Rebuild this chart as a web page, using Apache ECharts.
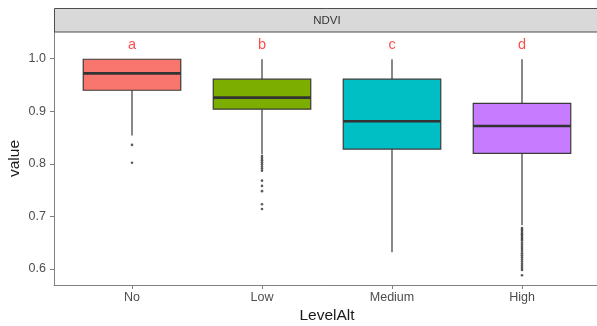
<!DOCTYPE html>
<html><head><meta charset="utf-8">
<script src="https://cdn.jsdelivr.net/npm/echarts@6/dist/echarts.min.js"></script>
<style>html,body{margin:0;padding:0;background:#fff}#c{width:597px;height:326px}</style>
</head><body><div id="c"></div>
<script>
// ---- data ----
const categories = ['No', 'Low', 'Medium', 'High'];
const whiskerLow  = [0.854, 0.818, 0.632, 0.683];
const q1          = [0.940, 0.904, 0.828, 0.820];
const median      = [0.972, 0.926, 0.881, 0.872];
const q3          = [0.999, 0.961, 0.961, 0.915];
const whiskerHigh = [0.999, 0.999, 0.999, 0.999];
const outliersNo = [0.836, 0.802];
const outliersLow = [0.815, 0.811, 0.807, 0.803, 0.799, 0.795, 0.791, 0.787, 0.768, 0.758, 0.748, 0.723, 0.714];
const outliersMedium = [];
const outliersHigh = [0.678, 0.675, 0.672, 0.669, 0.666, 0.663, 0.660, 0.657, 0.654, 0.650, 0.646, 0.642,
                      0.638, 0.634, 0.630, 0.626, 0.622, 0.618, 0.614, 0.610, 0.606, 0.602, 0.598, 0.588];
const groupLetters = ['a', 'b', 'c', 'd'];
const yTicks = [0.6, 0.7, 0.8, 0.9, 1.0];
const stripLabel = 'NDVI';

// ---- styling ----
const fills = ['#F8766D', '#7CAE00', '#00BFC4', '#C77CFF'];
const letterLevel = 1.027;
const xPos = categories.map((c, i) => i + 1);

const boxData = categories.map((c, i) => [xPos[i], whiskerLow[i], q1[i], median[i], q3[i], whiskerHigh[i]]);
const outlierSets = [outliersNo, outliersLow, outliersMedium, outliersHigh];
const outlierData = [];
outlierSets.forEach((arr, i) => arr.forEach(v => outlierData.push([xPos[i], v])));
const letterData = categories.map((c, i) => [xPos[i], letterLevel]);

function renderBox(params, api) {
  const x = api.value(0);
  const pLow = api.coord([x, api.value(1)]);
  const pQ1 = api.coord([x, api.value(2)]);
  const pMed = api.coord([x, api.value(3)]);
  const pQ3 = api.coord([x, api.value(4)]);
  const pHigh = api.coord([x, api.value(5)]);
  const bw = api.size([0.75, 0])[0];
  const cx = pMed[0];
  const lineStyle = { stroke: '#3a3a3a', lineWidth: 1.2 };
  return {
    type: 'group',
    children: [
      { type: 'line', shape: { x1: cx, y1: pHigh[1], x2: cx, y2: pQ3[1] }, style: lineStyle },
      { type: 'line', shape: { x1: cx, y1: pQ1[1], x2: cx, y2: pLow[1] }, style: lineStyle },
      { type: 'rect', shape: { x: cx - bw / 2, y: pQ3[1], width: bw, height: pQ1[1] - pQ3[1] },
        style: { fill: fills[params.dataIndex], stroke: '#3a3a3a', lineWidth: 1.2 } },
      { type: 'line', shape: { x1: cx - bw / 2, y1: pMed[1], x2: cx + bw / 2, y2: pMed[1] },
        style: { stroke: '#333', lineWidth: 2.6 } }
    ]
  };
}

const chart = echarts.init(document.getElementById('c'), null, { renderer: 'canvas' });
const font = 'Liberation Sans, Arial, sans-serif';
chart.setOption({
  animation: false,
  backgroundColor: '#fff',
  textStyle: { fontFamily: font },
  grid: { left: 54, top: 32, width: 546, height: 253, containLabel: false, outerBoundsMode: 'none' },
  xAxis: {
    type: 'value', min: 0.4, max: 4.6,
    axisLine: { show: true, lineStyle: { color: '#808080', width: 1 } },
    axisTick: { show: true, length: 4, customValues: xPos, lineStyle: { color: '#808080' } },
    axisLabel: { customValues: xPos, formatter: v => categories[Math.round(v) - 1], color: '#4d4d4d', fontSize: 12.5, margin: 6, fontFamily: font },
    splitLine: { show: false },
    name: 'LevelAlt', nameLocation: 'middle', nameGap: 23, nameMoveOverlap: false,
    nameTextStyle: { color: '#1a1a1a', fontSize: 15.5, fontFamily: font }
  },
  yAxis: {
    type: 'value', min: 0.5695, max: 1.0508,
    axisLine: { show: true, lineStyle: { color: '#808080', width: 1 } },
    axisTick: { show: true, length: 4, customValues: yTicks, lineStyle: { color: '#808080' } },
    axisLabel: { customValues: yTicks, formatter: v => v.toFixed(1), color: '#4d4d4d', fontSize: 12.5, margin: 8, fontFamily: font },
    splitLine: { show: false },
    name: 'value', nameLocation: 'middle', nameGap: 31, nameMoveOverlap: false,
    nameTextStyle: { color: '#1a1a1a', fontSize: 15.5, fontFamily: font }
  },
  graphic: [
    { type: 'rect', z: 10, shape: { x: 54.5, y: 8.5, width: 546, height: 23.5 },
      style: { fill: '#d9d9d9', stroke: '#4d4d4d', lineWidth: 1 } },
    { type: 'text', z: 11, x: 327, y: 20.5,
      style: { text: stripLabel, fill: '#333', fontSize: 11.5, fontFamily: font, textAlign: 'center', textVerticalAlign: 'middle' } }
  ],
  series: [
    {
      type: 'custom', renderItem: renderBox, data: boxData,
      encode: { x: 0, y: [1, 2, 3, 4, 5] }, clip: false
    },
    {
      type: 'scatter', data: outlierData, symbol: 'circle', symbolSize: 2.6,
      itemStyle: { color: '#333' }, silent: true
    },
    {
      type: 'scatter', data: letterData, symbolSize: 0, silent: true,
      label: { show: true, position: 'inside', formatter: p => groupLetters[p.dataIndex],
        color: '#ff2020', fontSize: 14.5, fontFamily: font }
    }
  ]
});
</script>
</body></html>
